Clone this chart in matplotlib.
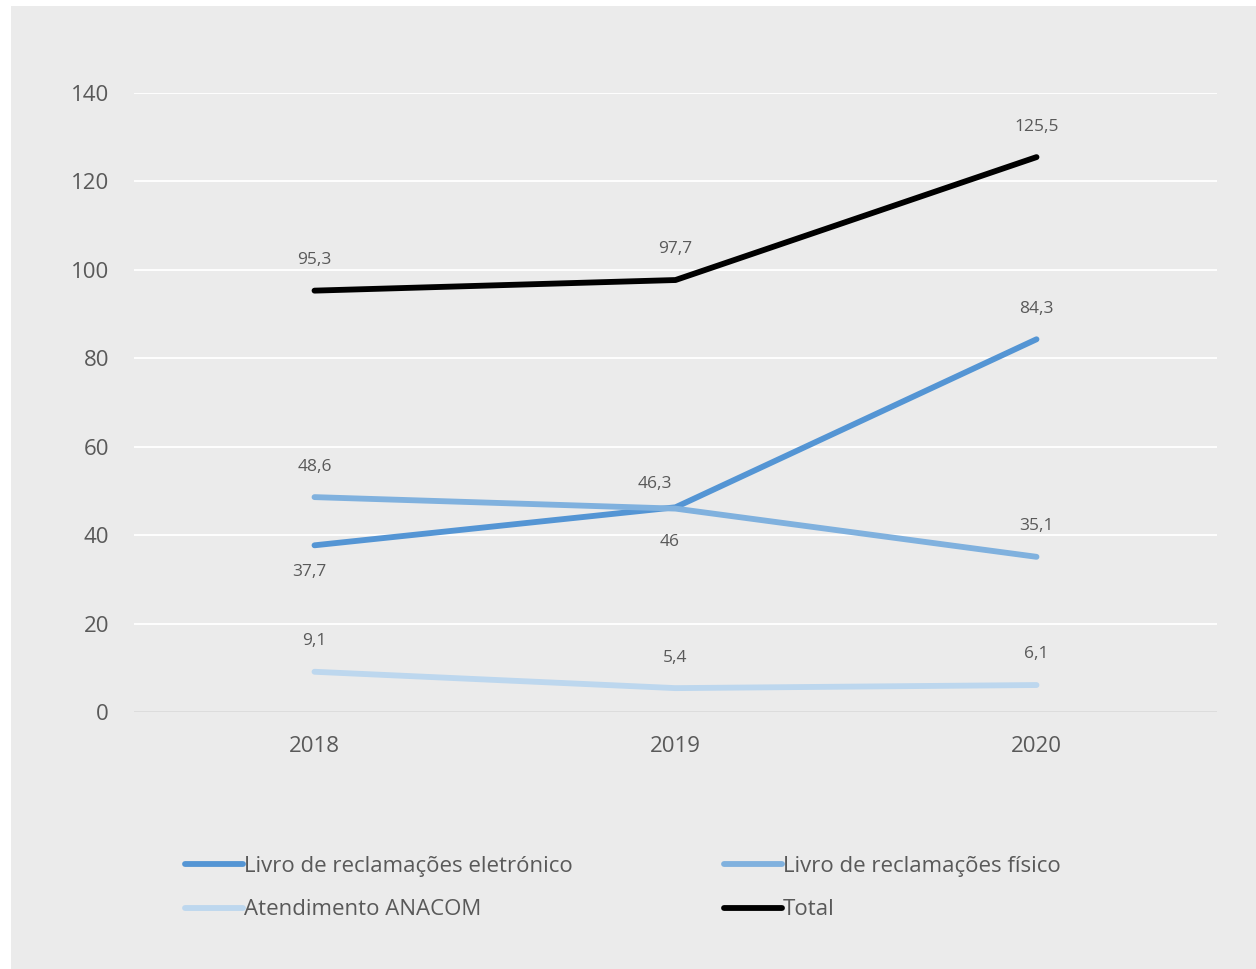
import matplotlib
matplotlib.use("Agg")
import matplotlib.pyplot as plt
from matplotlib.patches import Rectangle

plt.rcParams["font.family"] = ["Open Sans", "DejaVu Sans"]

years = ["2018", "2019", "2020"]
eletronico = [37.7, 46.3, 84.3]
fisico = [48.6, 46.0, 35.1]
anacom = [9.1, 5.4, 6.1]
total = [95.3, 97.7, 125.5]

series_names = [
    "Livro de reclamações eletrónico",
    "Livro de reclamações físico",
    "Atendimento ANACOM",
    "Total",
]

BG = "#EBEBEB"
TXT = "#595959"

fig = plt.figure(figsize=(12.56, 9.69), dpi=100)
fig.patch.set_facecolor("white")
fig.patches.append(Rectangle((11 / 1256, 0), 1, 1 - 6 / 969, transform=fig.transFigure,
                             facecolor=BG, edgecolor="none", zorder=-10))

ax = fig.add_axes([134 / 1256, 257 / 969, 1083 / 1256, 619 / 969])
ax.set_facecolor(BG)
x = [i + 0.5 for i in range(len(years))]

# (values, colour, label offsets in points per year)
lines = [
    (eletronico, "#5495D4", [(-4, -19), (-15, 17), (0, 22)]),
    (fisico, "#80B1DE", [(0, 22), (-4, -24), (0, 22)]),
    (anacom, "#BDD7EE", [(0, 22), (0, 22), (0, 22)]),
    (total, "black", [(0, 22), (0, 22), (0, 22)]),
]
handles = []
for (vals, color, offs), name in zip(lines, series_names):
    h, = ax.plot(x, vals, color=color, linewidth=4.2, solid_capstyle="round", label=name, zorder=3)
    handles.append(h)
    for xi, v, (dx, dy) in zip(x, vals, offs):
        txt = ("%g" % v).replace(".", ",")
        ax.annotate(txt, (xi, v), xytext=(dx, dy), textcoords="offset points",
                    ha="center", va="center", fontsize=12.5, color=TXT)

ax.set_xlim(0, 3)
ax.set_ylim(0, 140)
ax.set_yticks(range(0, 141, 20))
ax.set_xticks(x)
ax.set_xticklabels(years)
ax.tick_params(length=0, labelsize=16, labelcolor=TXT)
ax.tick_params(axis="y", pad=18)
ax.tick_params(axis="x", pad=17)
ax.grid(axis="y", color="white", linewidth=1.3)
ax.axhline(0, color="#D9D9D9", linewidth=1.3, zorder=2)
for s in ax.spines.values():
    s.set_visible(False)

order = [handles[0], handles[2], handles[1], handles[3]]
leg = fig.legend(order, [h.get_label() for h in order], ncol=2, frameon=False,
                 loc="upper left", bbox_to_anchor=(174 / 1256, 1 - 845 / 969),
                 fontsize=16, labelcolor=TXT, handlelength=2.6, handletextpad=0.05,
                 columnspacing=6.8, labelspacing=1.0, borderpad=0)

fig.savefig("out.png", dpi=100, facecolor=fig.get_facecolor())
